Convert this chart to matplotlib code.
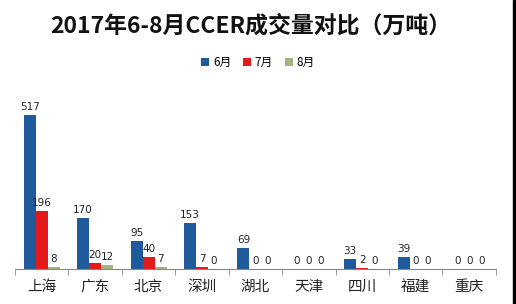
import matplotlib
matplotlib.use("Agg")
import matplotlib.pyplot as plt
import numpy as np
from matplotlib.patches import Rectangle

plt.rcParams['font.family'] = ['Noto Sans CJK SC', 'DejaVu Sans']

title = "2017年6-8月CCER成交量对比（万吨）"
categories = ["上海", "广东", "北京", "深圳", "湖北", "天津", "四川", "福建", "重庆"]
series_names = ["6月", "7月", "8月"]
jun = [517, 170, 95, 153, 69, 0, 33, 39, 0]
jul = [196, 20, 40, 7, 0, 0, 2, 0, 0]
aug = [8, 12, 7, 0, 0, 0, 0, 0, 0]
colors = ["#1F5B9C", "#E3191C", "#A3B47E"]

fig = plt.figure(figsize=(5.16, 3.04), dpi=100)
ax = fig.add_axes([0.029, 0.115, 0.932, 0.589])

x = np.arange(len(categories))
w = 0.225
for i, (vals, c, name) in enumerate(zip([jun, jul, aug], colors, series_names)):
    pos = x + (i - 1) * w
    ax.bar(pos, vals, width=w, color=c, label=name)
    for p, v in zip(pos, vals):
        ax.text(p, v + 10, f"{v}", ha="center", va="bottom", fontsize=7.5,
                family=["DejaVu Sans"], color="#222222")

ax.set_xlim(-0.5, len(categories) - 0.5)
ax.set_ylim(0, 600)
ax.set_yticks([])
for s in ["left", "right", "top"]:
    ax.spines[s].set_visible(False)
ax.spines["bottom"].set_color("#888888")
ax.set_xticks(x)
ax.set_xticklabels(categories, fontsize=10.5, color="#222222")
ax.tick_params(axis="x", which="major", length=0, pad=8)
ax.set_xticks(np.arange(-0.5, len(categories), 1), minor=True)
ax.tick_params(axis="x", which="minor", length=4, color="#888888", direction="out")

fig.text(0.485, 0.915, title, ha="center", va="center", fontsize=16.5, fontweight="bold", color="#111111")
fig.legend(loc="center", bbox_to_anchor=(0.5, 0.795), ncol=3, frameon=False, fontsize=8.5,
           handlelength=0.7, handleheight=0.7, handletextpad=0.3, columnspacing=1.0)

fig.patches.append(Rectangle((0.994, 0), 0.006, 1, transform=fig.transFigure, color="black"))

fig.savefig("out.png", dpi=100)
